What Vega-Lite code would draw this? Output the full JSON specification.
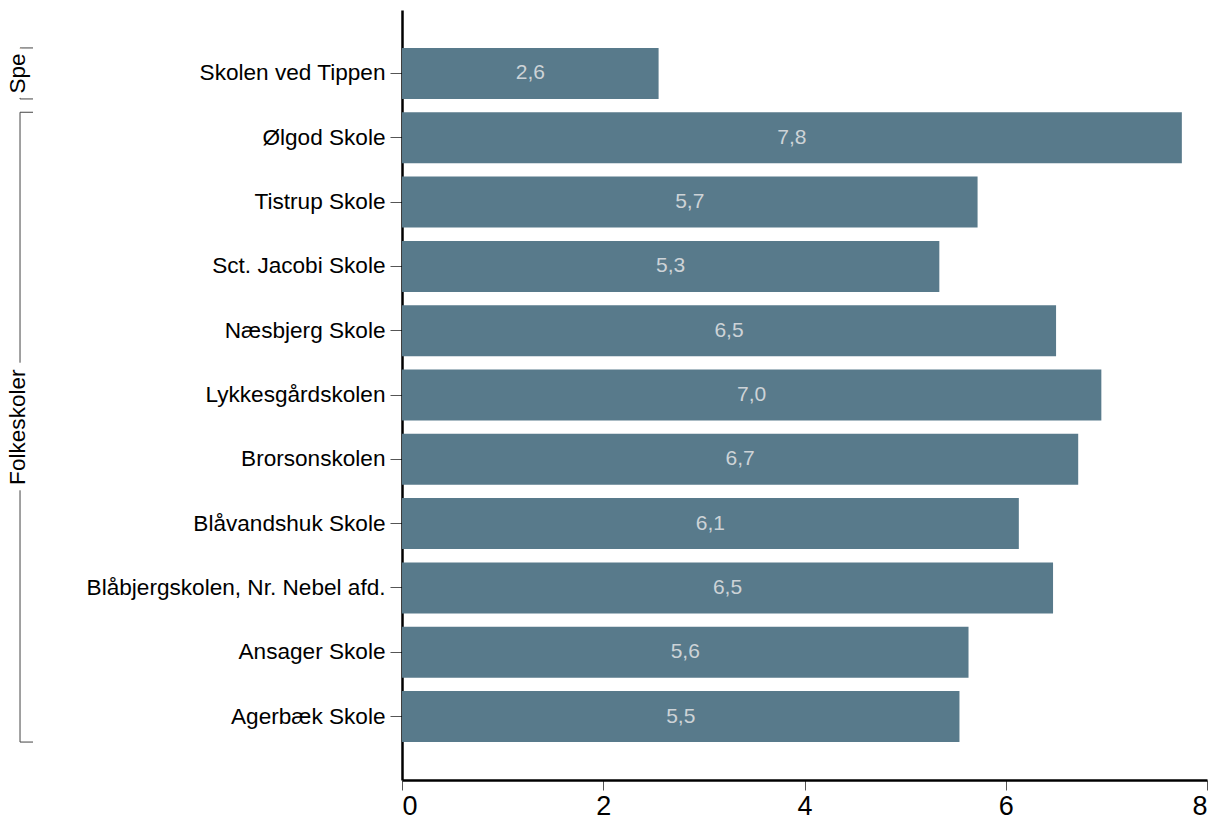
{
  "$schema": "https://vega.github.io/schema/vega-lite/v6.json",
  "width": 805,
  "height": 770,
  "autosize": {"type": "none"},
  "padding": {"left": 402, "top": 10, "right": 15, "bottom": 46},
  "background": "white",
  "config": {
    "view": {"stroke": null},
    "font": "Liberation Sans",
    "axis": {"grid": false, "domainColor": "black", "domainWidth": 2.5, "tickColor": "#555555", "labelColor": "black"}
  },
  "datasets": {
    "schools": [
      {"school": "Skolen ved Tippen", "group": "Spe", "value": 2.55, "label": "2,6"},
      {"school": "Ølgod Skole", "group": "Folkeskoler", "value": 7.75, "label": "7,8"},
      {"school": "Tistrup Skole", "group": "Folkeskoler", "value": 5.72, "label": "5,7"},
      {"school": "Sct. Jacobi Skole", "group": "Folkeskoler", "value": 5.34, "label": "5,3"},
      {"school": "Næsbjerg Skole", "group": "Folkeskoler", "value": 6.5, "label": "6,5"},
      {"school": "Lykkesgårdskolen", "group": "Folkeskoler", "value": 6.95, "label": "7,0"},
      {"school": "Brorsonskolen", "group": "Folkeskoler", "value": 6.72, "label": "6,7"},
      {"school": "Blåvandshuk Skole", "group": "Folkeskoler", "value": 6.13, "label": "6,1"},
      {"school": "Blåbjergskolen, Nr. Nebel afd.", "group": "Folkeskoler", "value": 6.47, "label": "6,5"},
      {"school": "Ansager Skole", "group": "Folkeskoler", "value": 5.63, "label": "5,6"},
      {"school": "Agerbæk Skole", "group": "Folkeskoler", "value": 5.54, "label": "5,5"}
    ],
    "groups": [
      {"group": "Spe", "first": "Skolen ved Tippen", "last": "Skolen ved Tippen"},
      {"group": "Folkeskoler", "first": "Ølgod Skole", "last": "Agerbæk Skole"}
    ]
  },
  "layer": [
    {
      "data": {"name": "schools"},
      "mark": {"type": "bar", "color": "#587a8b"},
      "encoding": {
        "y": {
          "field": "school", "type": "nominal", "title": null,
          "scale": {"domain": ["Skolen ved Tippen", "Ølgod Skole", "Tistrup Skole", "Sct. Jacobi Skole", "Næsbjerg Skole", "Lykkesgårdskolen", "Brorsonskolen", "Blåvandshuk Skole", "Blåbjergskolen, Nr. Nebel afd.", "Ansager Skole", "Agerbæk Skole"], "paddingInner": 0.207, "paddingOuter": 0.59},
          "axis": {"labelFontSize": 22.6, "tickSize": 12, "labelPadding": 5, "labelLimit": 400}
        },
        "x": {
          "field": "value", "type": "quantitative", "title": null,
          "scale": {"domain": [0, 8], "nice": false},
          "axis": {"values": [0, 2, 4, 6, 8], "format": "d", "labelFontSize": 27, "tickSize": 10, "labelPadding": 3}
        }
      }
    },
    {
      "data": {"name": "schools"},
      "mark": {"type": "text", "color": "#cdd3d7", "fontSize": 21, "align": "center", "baseline": "middle"},
      "encoding": {
        "y": {
          "field": "school", "type": "nominal", "title": null,
          "scale": {"domain": ["Skolen ved Tippen", "Ølgod Skole", "Tistrup Skole", "Sct. Jacobi Skole", "Næsbjerg Skole", "Lykkesgårdskolen", "Brorsonskolen", "Blåvandshuk Skole", "Blåbjergskolen, Nr. Nebel afd.", "Ansager Skole", "Agerbæk Skole"], "paddingInner": 0.207, "paddingOuter": 0.59}
        },
        "x": {
          "field": "value", "type": "quantitative", "title": null, "stack": "zero", "bandPosition": 0.5,
          "scale": {"domain": [0, 8], "nice": false}
        },
        "text": {"field": "label"}
      }
    },
    {
      "data": {"name": "groups"},
      "mark": {"type": "rule", "color": "#444444", "strokeWidth": 1},
      "encoding": {
        "x": {"datum": -3.796, "type": "quantitative", "title": null, "scale": {"domain": [0, 8], "nice": false}},
        "y": {
          "field": "first", "type": "nominal", "title": null, "bandPosition": 0,
          "scale": {"domain": ["Skolen ved Tippen", "Ølgod Skole", "Tistrup Skole", "Sct. Jacobi Skole", "Næsbjerg Skole", "Lykkesgårdskolen", "Brorsonskolen", "Blåvandshuk Skole", "Blåbjergskolen, Nr. Nebel afd.", "Ansager Skole", "Agerbæk Skole"], "paddingInner": 0.207, "paddingOuter": 0.59}
        },
        "y2": {"field": "last", "bandPosition": 1}
      }
    },
    {
      "data": {"name": "groups"},
      "mark": {"type": "rule", "color": "#444444", "strokeWidth": 1},
      "encoding": {
        "x": {"datum": -3.796, "type": "quantitative", "title": null, "scale": {"domain": [0, 8], "nice": false}},
        "x2": {"datum": -3.667},
        "y": {
          "field": "first", "type": "nominal", "title": null, "bandPosition": 0,
          "scale": {"domain": ["Skolen ved Tippen", "Ølgod Skole", "Tistrup Skole", "Sct. Jacobi Skole", "Næsbjerg Skole", "Lykkesgårdskolen", "Brorsonskolen", "Blåvandshuk Skole", "Blåbjergskolen, Nr. Nebel afd.", "Ansager Skole", "Agerbæk Skole"], "paddingInner": 0.207, "paddingOuter": 0.59}
        }
      }
    },
    {
      "data": {"name": "groups"},
      "mark": {"type": "rule", "color": "#444444", "strokeWidth": 1},
      "encoding": {
        "x": {"datum": -3.796, "type": "quantitative", "title": null, "scale": {"domain": [0, 8], "nice": false}},
        "x2": {"datum": -3.667},
        "y": {
          "field": "last", "type": "nominal", "title": null, "bandPosition": 1,
          "scale": {"domain": ["Skolen ved Tippen", "Ølgod Skole", "Tistrup Skole", "Sct. Jacobi Skole", "Næsbjerg Skole", "Lykkesgårdskolen", "Brorsonskolen", "Blåvandshuk Skole", "Blåbjergskolen, Nr. Nebel afd.", "Ansager Skole", "Agerbæk Skole"], "paddingInner": 0.207, "paddingOuter": 0.59}
        }
      }
    },
    {
      "data": {"name": "groups"},
      "transform": [{"filter": "datum.group == 'Spe'"}],
      "mark": {"type": "text", "angle": 270, "fontSize": 22.6, "align": "center", "baseline": "middle", "fill": "white", "stroke": "white", "strokeWidth": 10},
      "encoding": {
        "x": {"datum": -3.82, "type": "quantitative", "title": null, "scale": {"domain": [0, 8], "nice": false}},
        "y": {
          "field": "first", "type": "nominal", "title": null, "bandPosition": 0.5,
          "scale": {"domain": ["Skolen ved Tippen", "Ølgod Skole", "Tistrup Skole", "Sct. Jacobi Skole", "Næsbjerg Skole", "Lykkesgårdskolen", "Brorsonskolen", "Blåvandshuk Skole", "Blåbjergskolen, Nr. Nebel afd.", "Ansager Skole", "Agerbæk Skole"], "paddingInner": 0.207, "paddingOuter": 0.59}
        },
        "text": {"field": "group"}
      }
    },
    {
      "data": {"name": "groups"},
      "transform": [{"filter": "datum.group == 'Spe'"}],
      "mark": {"type": "text", "angle": 270, "fontSize": 22.6, "align": "center", "baseline": "middle", "color": "black"},
      "encoding": {
        "x": {"datum": -3.82, "type": "quantitative", "title": null, "scale": {"domain": [0, 8], "nice": false}},
        "y": {
          "field": "first", "type": "nominal", "title": null, "bandPosition": 0.5,
          "scale": {"domain": ["Skolen ved Tippen", "Ølgod Skole", "Tistrup Skole", "Sct. Jacobi Skole", "Næsbjerg Skole", "Lykkesgårdskolen", "Brorsonskolen", "Blåvandshuk Skole", "Blåbjergskolen, Nr. Nebel afd.", "Ansager Skole", "Agerbæk Skole"], "paddingInner": 0.207, "paddingOuter": 0.59}
        },
        "text": {"field": "group"}
      }
    },
    {
      "data": {"name": "groups"},
      "transform": [{"filter": "datum.group == 'Folkeskoler'"}],
      "mark": {"type": "text", "angle": 270, "fontSize": 22.6, "align": "center", "baseline": "middle", "fill": "white", "stroke": "white", "strokeWidth": 14},
      "encoding": {
        "x": {"datum": -3.82, "type": "quantitative", "title": null, "scale": {"domain": [0, 8], "nice": false}},
        "y": {
          "datum": "Lykkesgårdskolen", "type": "nominal", "title": null, "bandPosition": 1.13,
          "scale": {"domain": ["Skolen ved Tippen", "Ølgod Skole", "Tistrup Skole", "Sct. Jacobi Skole", "Næsbjerg Skole", "Lykkesgårdskolen", "Brorsonskolen", "Blåvandshuk Skole", "Blåbjergskolen, Nr. Nebel afd.", "Ansager Skole", "Agerbæk Skole"], "paddingInner": 0.207, "paddingOuter": 0.59}
        },
        "text": {"field": "group"}
      }
    },
    {
      "data": {"name": "groups"},
      "transform": [{"filter": "datum.group == 'Folkeskoler'"}],
      "mark": {"type": "text", "angle": 270, "fontSize": 22.6, "align": "center", "baseline": "middle", "color": "black"},
      "encoding": {
        "x": {"datum": -3.82, "type": "quantitative", "title": null, "scale": {"domain": [0, 8], "nice": false}},
        "y": {
          "datum": "Lykkesgårdskolen", "type": "nominal", "title": null, "bandPosition": 1.13,
          "scale": {"domain": ["Skolen ved Tippen", "Ølgod Skole", "Tistrup Skole", "Sct. Jacobi Skole", "Næsbjerg Skole", "Lykkesgårdskolen", "Brorsonskolen", "Blåvandshuk Skole", "Blåbjergskolen, Nr. Nebel afd.", "Ansager Skole", "Agerbæk Skole"], "paddingInner": 0.207, "paddingOuter": 0.59}
        },
        "text": {"field": "group"}
      }
    }
  ]
}
